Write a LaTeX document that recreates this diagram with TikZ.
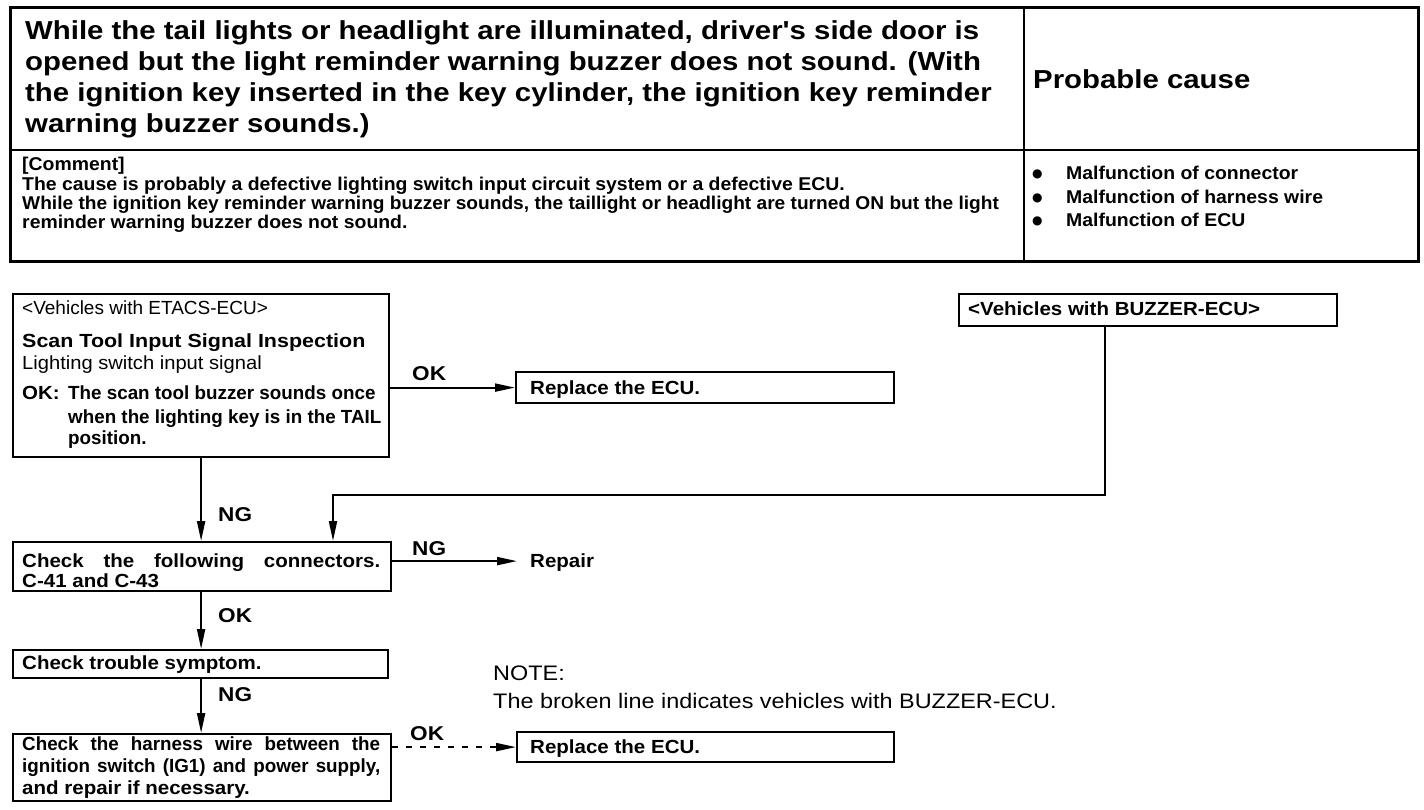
\documentclass[tikz,border=0pt]{standalone}
\usepackage{fontspec}
\setmainfont{Liberation Sans}
\newfontfamily\hv[FakeStretch=1.13]{Liberation Sans}
\newfontfamily\hn{Liberation Sans}
\newfontfamily\hnw[FakeStretch=1.06]{Liberation Sans}
\newfontfamily\hc[FakeStretch=1.05]{Liberation Sans}
\newfontfamily\hcn[FakeStretch=1.034]{Liberation Sans}
\newfontfamily\hw[FakeStretch=1.08]{Liberation Sans}
\newfontfamily\hww[FakeStretch=1.13]{Liberation Sans}
\newfontfamily\hr[FakeStretch=0.99]{Liberation Sans}
\newfontfamily\hnote[FakeStretch=1.115]{Liberation Sans}
\newfontfamily\djvfont{DejaVu Sans}
\usetikzlibrary{arrows.meta}
\begin{document}
\begin{tikzpicture}[x=1pt,y=-1pt,
  lbl/.style={inner sep=0pt, anchor=base west},
  ttx/.style={lbl, font=\hv\bfseries\fontsize{26}{31}\selectfont},
  cmt/.style={lbl, font=\hc\bfseries\fontsize{18.5}{20}\selectfont},
  flw/.style={lbl, font=\hw\bfseries\fontsize{19}{21}\selectfont},
  fln/.style={lbl, font=\hr\bfseries\fontsize{19}{21}\selectfont},
  flr/.style={lbl, font=\hn\fontsize{19}{21}\selectfont},
  nte/.style={lbl, font=\hnote\fontsize{21}{24}\selectfont},
  ynl/.style={lbl, font=\hv\bfseries\fontsize{20}{22}\selectfont},
  fbox/.style={draw, line width=2.2pt, inner sep=0pt, anchor=north west},
  arr/.style={line width=2pt, -{Triangle[length=20pt,width=8pt]}},
  darr/.style={arr, dash pattern=on 6pt off 8pt},
  ]
\useasboundingbox (0,0) rectangle (1424,810);
% table
\draw[line width=3pt] (10,8) rectangle (1418,262);
\draw[line width=2.5pt] (10,150) -- (1418,150);
\draw[line width=2.5pt] (1024,8) -- (1024,262);
\node[ttx] (t1) at (25,40) {While the tail lights or headlight are illuminated, driver's side door is};
\node[ttx] (t2) at (25,71) {opened but the light reminder warning buzzer does not sound. (With};
\node[ttx] (t3) at (25,102) {the ignition key inserted in the key cylinder, the ignition key reminder};
\node[ttx] (t4) at (25,133) {warning buzzer sounds.)};
\node[ttx] (pc) at (1033,89) {Probable cause};
\node[cmt] (c0) at (22,171) {[Comment]};
\node[cmt] (c1) at (22,191) {The cause is probably a defective lighting switch input circuit system or a defective ECU.};
\node[cmt, font=\hcn\bfseries\fontsize{18.5}{20}\selectfont] (c2) at (22,210) {While the ignition key reminder warning buzzer sounds, the taillight or headlight are turned ON but the light};
\node[cmt] (c3) at (22,229) {reminder warning buzzer does not sound.};
\foreach \yy/\tx [count=\i] in {180/Malfunction of connector,204/Malfunction of harness wire,227/Malfunction of ECU}{
  \node[lbl, font=\djvfont\fontsize{12}{12}\selectfont] (b\i) at (1032,\yy-2) {●};
  \node[cmt] (m\i) at (1066,\yy) {\tx};
}
% boxes
\node[fbox, minimum width=376pt, minimum height=163pt] (etacs) at (12,293) {};
\node[fbox, minimum width=378pt, minimum height=31pt] (rep1) at (515,371) {};
\node[fbox, minimum width=378pt, minimum height=32pt] (buz) at (958,293) {};
\node[fbox, minimum width=378pt, minimum height=49pt] (chk) at (12,541) {};
\node[fbox, minimum width=375pt, minimum height=28pt] (trb) at (12,649) {};
\node[fbox, minimum width=378pt, minimum height=67pt] (harn) at (12,733) {};
\node[fbox, minimum width=377pt, minimum height=30pt] (rep2) at (516,731) {};
% box texts
\node[flr] (e1) at (22,315) {<Vehicles with ETACS-ECU>};
\node[flw, font=\hww\bfseries\fontsize{19}{21}\selectfont] (e2) at (22,347) {Scan Tool Input Signal Inspection};
\node[flr, font=\hnw\fontsize{19}{21}\selectfont] (e3) at (22,369) {Lighting switch input signal};
\node[flw] (e4) at (22,399) {OK:};
\node[fln] (e5) at (68,399) {The scan tool buzzer sounds once};
\node[fln] (e6) at (68,423) {when the lighting key is in the TAIL};
\node[fln] (e7) at (68,444) {position.};
\node[flw] (r1) at (530,394) {Replace the ECU.};
\node[flw] (bz) at (968,316) {<Vehicles with BUZZER-ECU>};
\node[flw] (k1) at (22,567) {\makebox[358pt][s]{Check the following connectors.}};
\node[flw] (k2) at (22,587) {C-41 and C-43};
\node[flw] (rp) at (530,567) {Repair};
\node[flw] (s1) at (22,669) {Check trouble symptom.};
\node[fln] (h1) at (22,750) {\makebox[358pt][s]{Check the harness wire between the}};
\node[fln] (h2) at (22,772) {\makebox[358pt][s]{ignition switch (IG1) and power supply,}};
\node[flw] (h3) at (22,794) {and repair if necessary.};
\node[flw] (r2) at (530,753) {Replace the ECU.};
\node[nte] (n1) at (493,680) {NOTE:};
\node[nte] (n2) at (493,708) {The broken line indicates vehicles with BUZZER-ECU.};
% connectors
\draw[arr] (etacs.east |- rep1.west) -- (rep1.west);
\node[ynl] (ok1) at (412,380) {OK};
\draw[arr] (etacs.south) -- (etacs.south |- chk.north);
\node[ynl] (ng1) at (218,521) {NG};
\coordinate (jn) at (333,495);
\draw[arr] ([xshift=-43pt]buz.south) |- (jn) -- (jn |- chk.north);
\draw[arr] ([yshift=5.5pt]chk.east) -- ([xshift=-13pt,yshift=5.5pt]chk.east -| rp.west);
\node[ynl] (ng2) at (412,555) {NG};
\draw[arr] (chk.south -| etacs.south) -- (trb.north -| etacs.south);
\node[ynl] (ok2) at (218,622) {OK};
\draw[arr] (trb.south -| etacs.south) -- (harn.north -| etacs.south);
\node[ynl] (ng3) at (218,701) {NG};
\draw[darr] (harn.east |- rep2.west) -- (rep2.west);
\node[ynl] (ok3) at (410,740) {OK};
\end{tikzpicture}
\end{document}
